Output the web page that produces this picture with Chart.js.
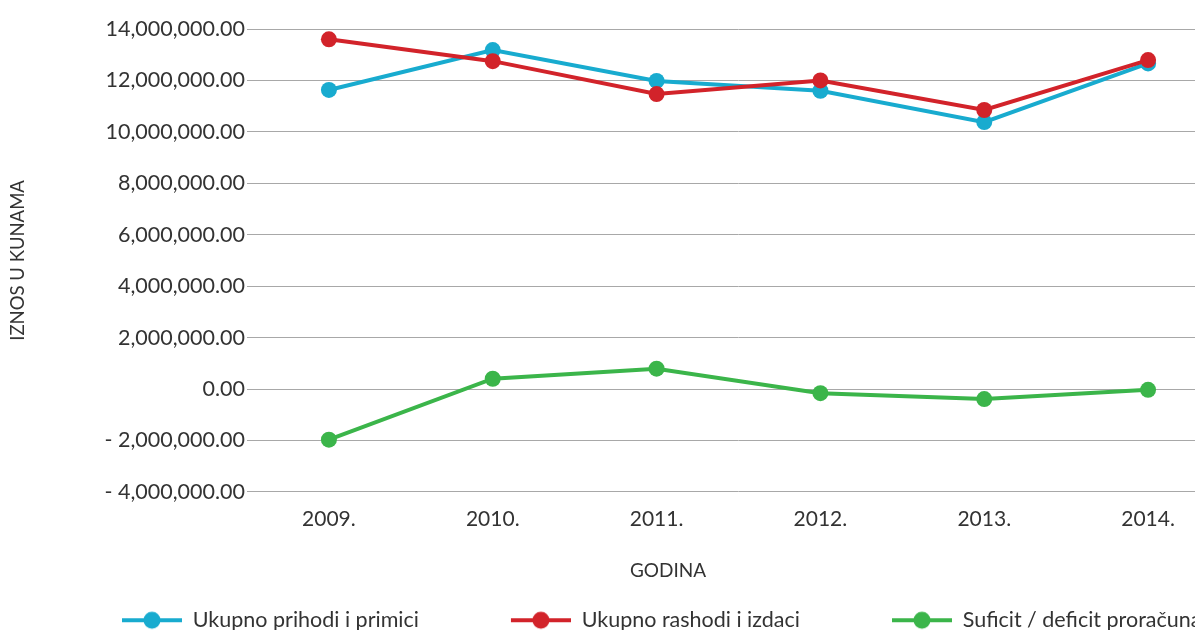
<!DOCTYPE html>
<html><head><meta charset="utf-8">
<script src="https://cdn.jsdelivr.net/npm/chart.js@4.4.1/dist/chart.umd.min.js"></script>
<style>
html,body{margin:0;padding:0;overflow:hidden;background:#fff;width:1195px;height:630px;}
#wrap{position:absolute;left:0;top:0;width:1306px;height:641px;}
canvas{display:block;}
</style></head><body>
<div id="wrap"><canvas id="c" width="1306" height="641"></canvas></div>
<script>
// ---- data ----
const years = ['2009.', '2010.', '2011.', '2012.', '2013.', '2014.'];
const prihodi = [11630000, 13180000, 11980000, 11600000, 10380000, 12660000];
const rashodi = [13600000, 12750000, 11470000, 12000000, 10850000, 12790000];
const saldo = [-1970000, 400000, 790000, -160000, -390000, -30000];
const seriesNames = ['Ukupno prihodi i primici', 'Ukupno rashodi i izdaci', 'Suficit / deficit proračuna'];
const yMin = -4000000, yMax = 14000000, yStep = 2000000;
const xTitle = 'GODINA';
const yTitle = 'IZNOS U KUNAMA';

// ---- styles ----
const colors = ['#18abcf', '#d2232a', '#3bb54a'];
const FONT = 'Lato';
const TEXT = '#333333';
const MARK_PAD = 65;

function fmt(v) {
  const s = Math.abs(v).toLocaleString('en-US', {minimumFractionDigits: 2, maximumFractionDigits: 2});
  return v < 0 ? '- ' + s : s;
}
function marker(color) {
  const c = document.createElement('canvas');
  c.width = MARK_PAD + 60; c.height = 22;
  const g = c.getContext('2d');
  g.strokeStyle = color; g.lineWidth = 4;
  g.beginPath(); g.moveTo(MARK_PAD, 11); g.lineTo(MARK_PAD + 60, 11); g.stroke();
  g.fillStyle = color; g.beginPath(); g.arc(MARK_PAD + 30, 11, 8.5, 0, Math.PI * 2); g.fill();
  return c;
}
const markers = colors.map(marker);
function ds(label, data, color, order) {
  return {label, data, borderColor: color, backgroundColor: color, borderWidth: 4,
    pointRadius: 8, pointHoverRadius: 8, pointBorderWidth: 0, pointBackgroundColor: color,
    tension: 0, order, yAxisID: 'y'};
}

new Chart(document.getElementById('c'), {
  type: 'line',
  data: {labels: years, datasets: [
    ds(seriesNames[0], prihodi, colors[0], 1),
    ds(seriesNames[1], rashodi, colors[1], 0),
    ds(seriesNames[2], saldo, colors[2], 2)
  ]},
  options: {
    responsive: false, animation: false, devicePixelRatio: 1,
    layout: {padding: {left: 30, right: 0, top: 29, bottom: 0}},
    scales: {
      x: {offset: true, grid: {display: false, drawTicks: false}, border: {display: false},
        ticks: {color: TEXT, font: {family: FONT, size: 21}, padding: 14.5, maxRotation: 0}},
      y: {min: yMin, max: yMax, afterFit: (s) => { s.width = 217; },
        grid: {color: '#a8a8a8', lineWidth: 1, drawTicks: false}, border: {display: false},
        ticks: {stepSize: yStep, color: TEXT, font: {family: FONT, size: 21.5}, padding: 2, callback: (v) => fmt(v)},
        title: {display: true, text: yTitle, color: TEXT, font: {family: FONT, size: 18.5}, padding: {top: -23.5, bottom: 0}}},
      y2: {position: 'right', display: true, afterFit: (s) => { s.width = 76; },
        grid: {display: false, drawTicks: false}, border: {display: false}, ticks: {display: false}}
    },
    plugins: {
      tooltip: {enabled: false},
      title: {display: true, position: 'bottom', text: xTitle, weight: 500, color: TEXT,
        font: {family: FONT, size: 19, weight: 'normal'}, padding: {top: 13.6, bottom: 0}},
      legend: {position: 'bottom', align: 'start', weight: 1000,
        labels: {usePointStyle: true, pointStyleWidth: MARK_PAD + 60, color: TEXT,
          font: {family: FONT, size: 21.5}, padding: 27,
          sort: (a, b) => a.datasetIndex - b.datasetIndex,
          generateLabels: (chart) => {
            const items = Chart.defaults.plugins.legend.labels.generateLabels(chart);
            items.forEach(it => { it.pointStyle = markers[it.datasetIndex]; });
            return items;
          }}}
    }
  }
});
</script>
</body></html>
